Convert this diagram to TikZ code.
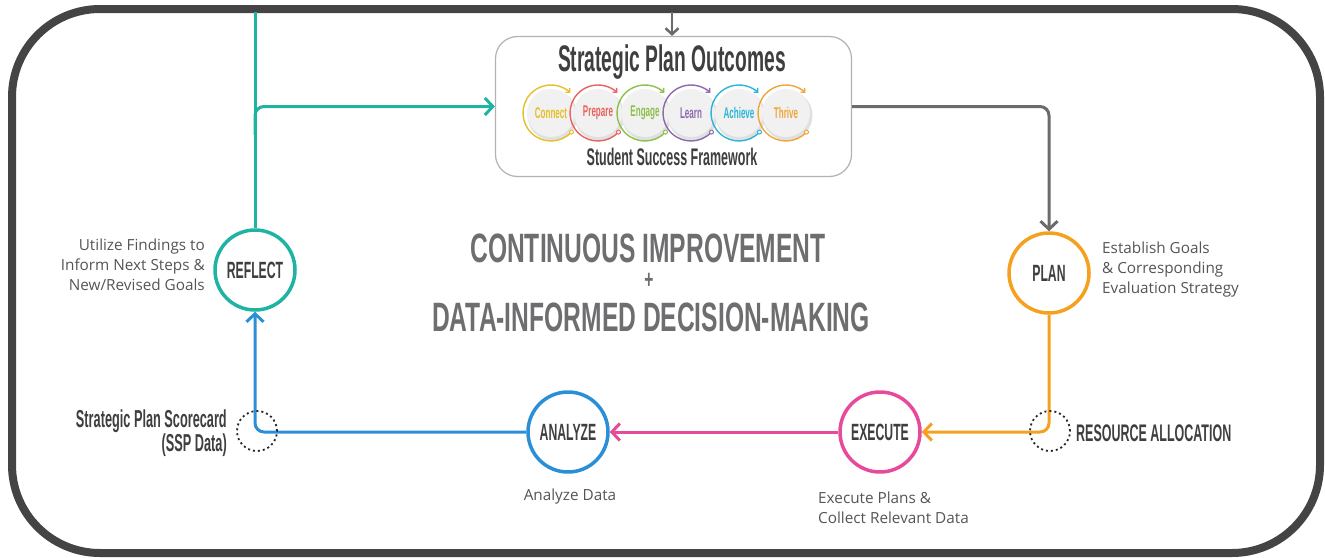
\documentclass[tikz,border=0pt]{standalone}
\usepackage{fontspec}
\setmainfont{Open Sans}
\newfontfamily\cond[FakeStretch=0.6]{Liberation Sans}
\newfontfamily\condn[FakeStretch=0.52]{Liberation Sans}
\usetikzlibrary{arrows.meta}
\definecolor{framegray}{HTML}{444444}
\definecolor{linegray}{HTML}{6B6B6B}
\definecolor{textgray}{HTML}{555555}
\definecolor{darktext}{HTML}{3F3F3F}
\definecolor{titlegray}{HTML}{6E6E70}
\definecolor{cteal}{HTML}{1EB3A3}
\definecolor{cblue}{HTML}{2B8FD8}
\definecolor{cpink}{HTML}{E84A9B}
\definecolor{corange}{HTML}{F5A01F}
\definecolor{cConnect}{HTML}{E6BF2A}
\definecolor{cPrepare}{HTML}{E8635E}
\definecolor{cEngage}{HTML}{8DC04A}
\definecolor{cLearn}{HTML}{8D6AAE}
\definecolor{cAchieve}{HTML}{2CB5D8}
\definecolor{cThrive}{HTML}{F0A53A}
\definecolor{ringfill}{HTML}{F1F1F1}
\tikzset{
  stage/.style={circle, draw, line width=3.5pt, minimum size=80pt, inner sep=0pt, fill=white,
    font=\condn\bfseries\fontsize{23.5}{23}\selectfont, text=darktext},
  flow/.style={line width=3pt, rounded corners=9pt},
  barb/.style={-{Straight Barb[length=8pt,width=17pt,line width=3pt]}},
  smallbarb/.style={-{Straight Barb[length=6pt,width=13pt,line width=2.5pt]}},
  dotring/.style={circle, draw=black!85, line width=1.8pt, dash pattern=on 2pt off 3pt, minimum size=40pt, inner sep=0pt},
  body/.style={font=\fontsize{15.3}{20}\selectfont, text=textgray, inner sep=0pt},
  condlabel/.style={font=\condn\bfseries\fontsize{24}{20}\selectfont, text=darktext, inner sep=0pt},
  titletext/.style={font=\cond\bfseries\fontsize{41}{41}\selectfont, text=titlegray, inner sep=0pt},
  ringlabel/.style={circle, fill=ringfill, minimum size=48pt, inner sep=0pt, font=\condn\bfseries\fontsize{15.5}{15}\selectfont}
}
\begin{document}
\begin{tikzpicture}[x=1pt,y=-1pt]
\useasboundingbox (0,0) rectangle (1325,557);
% frame
\draw[line width=8pt, draw=framegray, rounded corners=88pt] (12,9) rectangle (1320,553);

% outcomes box
\node[draw=black!30, line width=1.2pt, rounded corners=22pt, minimum width=356pt, minimum height=140pt, fill=white] (box) at (673.5,106.5) {};
\node[font=\condn\bfseries\fontsize{37}{37}\selectfont, text=darktext, inner sep=0pt] (sptitle) at (672,62) {Strategic Plan Outcomes};
\node[font=\condn\bfseries\fontsize{24}{24}\selectfont, text=darktext, inner sep=0pt] (ssf) at (672,157) {Student Success Framework};

\foreach \nm/\lbl/\cx/\col in {r1/Connect/551/cConnect, r2/Prepare/598/cPrepare, r3/Engage/645/cEngage, r4/Learn/691/cLearn, r5/Achieve/739/cAchieve, r6/Thrive/786/cThrive} {
  \fill[black!12] (\cx+1.5,115.5) circle[radius=25pt];
  \node[ringlabel, text=\col] (\nm) at (\cx,113) {\lbl};
  \draw[\col, line width=1.4pt, -{Straight Barb[length=3pt,width=6pt,line width=1.4pt]}]
    (\nm.center) ++(-43:28pt) arc[start angle=-43, end angle=-314, radius=28pt];
  \draw[\col, line width=1pt, fill=white] (\nm.center) ++(-43:28pt) circle[radius=2pt];
}

% stage circles
\node[stage, draw=cteal] (reflect) at (255,270) {REFLECT};
\node[stage, draw=corange] (plan) at (1049,273) {PLAN};
\node[stage, draw=cpink] (execute) at (880,432) {EXECUTE};
\node[stage, draw=cblue] (analyze) at (568,432) {ANALYZE};

% connectors
\coordinate (topg) at (672,12);
\coordinate (topt) at (255,12);
\coordinate (tb) at (255,135);
\draw[linegray, line width=2.5pt, smallbarb] (topg) -- (topg |- box.north);
\draw[cteal, flow] (topt) -- (reflect.north);
\draw[cteal, flow, barb] (tb) |- (box.west);
\draw[linegray, flow, barb] (box.east) -| (plan.north);
\draw[corange, flow, barb] (plan.south) |- (execute.east);
\draw[cpink, flow, barb] (execute.west) -- (analyze.east);
\draw[cblue, flow, barb] (analyze.west) -| (reflect.south);

% dotted markers
\node[dotring] (resring) at (1050,431) {};
\node[dotring] (scorering) at (257,431) {};

% texts
\node[body, anchor=east, align=right] (utilize) at (205,265) {Utilize Findings to\\Inform Next Steps \&\\New/Revised Goals};
\node[body, anchor=west, align=left] (establish) at (1102,270) {Establish Goals\\\& Corresponding\\Evaluation Strategy};
\node[condlabel, font=\condn\bfseries\fontsize{24.5}{20}\selectfont, anchor=east, align=right] (score) at (227,433) {Strategic Plan Scorecard\\(SSP Data)};
\node[condlabel, anchor=west] (resalloc) at (1076,433) {RESOURCE ALLOCATION};
\node[body] (anadata) at (570,497) {Analyze Data};
\node[body, anchor=west, align=left] (exdata) at (818,508) {Execute Plans \&\\Collect Relevant Data};

\node[titletext] (t1) at (648,248) {CONTINUOUS IMPROVEMENT};
\node[titletext, font=\cond\bfseries\fontsize{26}{26}\selectfont] (tplus) at (649,281) {+};
\node[titletext] (t2) at (651,317) {DATA-INFORMED DECISION-MAKING};
\end{tikzpicture}
\end{document}
